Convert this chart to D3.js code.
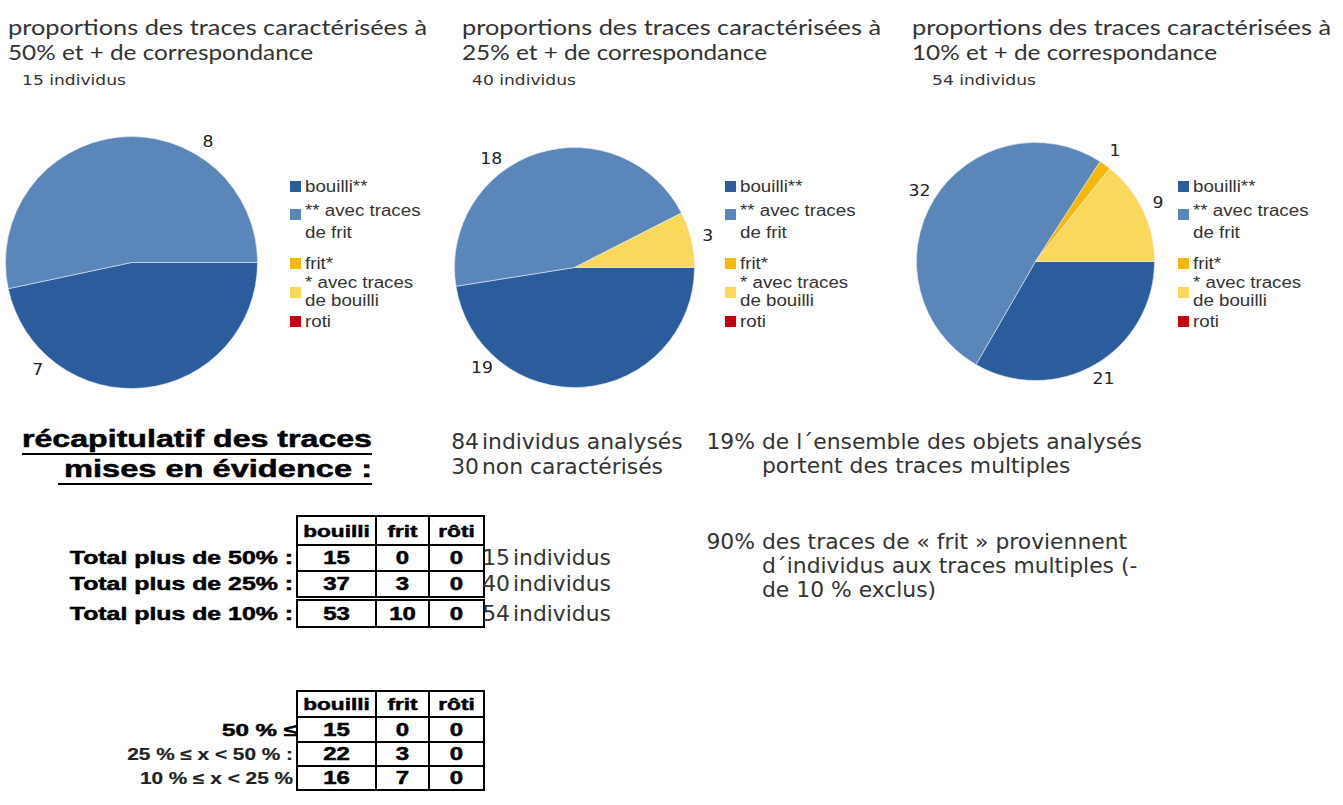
<!DOCTYPE html>
<html>
<head>
<meta charset="utf-8">
<script src="https://cdn.jsdelivr.net/npm/d3@7"></script>
<style>
  html, body { margin: 0; padding: 0; background: #fff; }
  svg { display: block; }
</style>
</head>
<body>
<script>
// ---- data ----
var categories = ["bouilli**", "** avec traces de frit", "frit*", "* avec traces de bouilli", "roti"];
var legendLines = [["bouilli**"], ["** avec traces", "de frit"], ["frit*"], ["* avec traces", "de bouilli"], ["roti"]];
var pie50 = [7, 8, 0, 0, 0];
var pie25 = [19, 18, 0, 3, 0];
var pie10 = [21, 32, 1, 9, 0];
var pieTitles = [
    ["proportions des traces caractérisées à", "50% et + de correspondance"],
    ["proportions des traces caractérisées à", "25% et + de correspondance"],
    ["proportions des traces caractérisées à", "10% et + de correspondance"]
];
var pieCounts = ["15 individus", "40 individus", "54 individus"];

var tableCols = ["bouilli", "frit", "rôti"];
var totalRows = ["Total plus de 50% :", "Total plus de 25% :", "Total plus de 10% :"];
var totalValues = [[15, 0, 0], [37, 3, 0], [53, 10, 0]];
var totalIndividus = [15, 40, 54];
var bandRows = ["50 % ≤", "25 % ≤ x < 50 % :", "10 % ≤ x < 25 %"];
var bandValues = [[15, 0, 0], [22, 3, 0], [16, 7, 0]];

var heading = ["récapitulatif des traces", "mises en évidence :"];
var summaryLeft = [["84", "individus analysés"], ["30", "non caractérisés"]];
var notes = [
    ["19%", ["de l´ensemble des objets analysés", "portent des traces multiples"]],
    ["90%", ["des traces de « frit » proviennent", "d´individus aux traces multiples (-", "de 10 % exclus)"]]
];

// ---- layout / style ----
var sliceColors = ["#2b5c9b", "#5a86b9", "#f6b800", "#fad85c", "#c4000e"];
var pieLayout = [
    {cx: 131.5, cy: 262.5, r: 126, tx: 8, sx: 22, lx: 290, labelAt: [0.78, 0.70, 0.5, 0.5, 0.5]},
    {cx: 574.5, cy: 267.5, r: 120, tx: 462, sx: 472, lx: 725, labelAt: [0.775, 0.38, 0.5, 0.5, 0.5]},
    {cx: 1035.5, cy: 261.5, r: 119, tx: 912, sx: 932, lx: 1178, labelAt: [0.5, 0.5, 0.5, 0.5, 0.5]}
];
var legendBase = 192;
var legendSq = [-11, 17, 66, 95, 124];
var legendTxt = [[0], [24, 46], [77], [96, 114], [135]];

var W = 1343, H = 805;
var svg = d3.select("body").append("svg").attr("width", W).attr("height", H);
svg.append("rect").attr("width", W).attr("height", H).attr("fill", "#fff");

var color = d3.scaleOrdinal().domain(categories).range(sliceColors);

// put a text, stretched horizontally so that it spans the same width as in the picture
function put(g, str, x, y, o) {
    var t = g.append("text")
        .attr("y", y)
        .style("font-family", o.font)
        .style("font-size", o.size + "px")
        .style("font-weight", o.weight || "normal")
        .attr("fill", o.color || "#222")
        .text(str);
    if (o.stroke) t.attr("stroke", o.color || "#000").attr("stroke-width", o.stroke);
    var nat = t.node().getComputedTextLength();
    var w = o.width || nat * (o.k || 1);
    t.attr("textLength", w).attr("lengthAdjust", "spacingAndGlyphs");
    var x0 = o.anchor === "end" ? x - w : (o.anchor === "middle" ? x - w / 2 : x);
    t.attr("x", x0);
    return {x0: x0, w: w};
}

var titleFont = {font: "Lato, 'Open Sans', sans-serif", size: 22, color: "#333"};
var bodyFont = {font: "'DejaVu Sans', sans-serif", size: 21, k: 1.04, color: "#333"};
var boldFont = {font: "'Liberation Sans', Arial, sans-serif", size: 18, weight: "bold", k: 1.38, stroke: 0.5, color: "#000"};

// ---- the three pies ----
[pie50, pie25, pie10].forEach(function (values, i) {
    var L = pieLayout[i];
    put(svg, pieTitles[i][0], L.tx, 35, Object.assign({}, titleFont, {width: 419}));
    put(svg, pieTitles[i][1], L.tx, 60, Object.assign({}, titleFont, {width: 305}));
    put(svg, pieCounts[i], L.sx, 85, {font: "'DejaVu Sans', sans-serif", size: 14.5, k: 1.18, color: "#333"});

    var pie = d3.pie().sort(null)
        .startAngle(Math.PI / 2)
        .endAngle(Math.PI / 2 + 2 * Math.PI);
    var arcs = pie(values);
    var arc = d3.arc().innerRadius(0).outerRadius(L.r);

    var g = svg.append("g").attr("transform", "translate(" + L.cx + "," + L.cy + ")");
    g.selectAll("path")
        .data(arcs.filter(function (d) { return d.value > 0; }))
        .join("path")
        .attr("d", arc)
        .attr("fill", function (d) { return color(categories[d.index]); })
        .attr("stroke", "#e4eaf2")
        .attr("stroke-width", 0.6);

    arcs.forEach(function (d, j) {
        if (d.value <= 0) return;
        var a = d.startAngle + L.labelAt[j] * (d.endAngle - d.startAngle);
        var rr = L.r + 17;
        put(g, String(d.value), rr * Math.sin(a), -rr * Math.cos(a) + 5,
            {font: "'DejaVu Sans', sans-serif", size: 15, k: 1.15, color: "#222", anchor: "middle"});
    });

    // legend
    var lg = svg.append("g");
    categories.forEach(function (c, j) {
        lg.append("rect")
            .attr("x", L.lx).attr("y", legendBase + legendSq[j])
            .attr("width", 11).attr("height", 11)
            .attr("fill", color(c));
        legendLines[j].forEach(function (line, k) {
            put(lg, line, L.lx + 15, legendBase + legendTxt[j][k],
                {font: "'Liberation Sans', Arial, sans-serif", size: 16, k: 1.17, color: "#333"});
        });
    });
});

// ---- heading ----
var h1 = put(svg, heading[0], 372, 447, Object.assign({}, boldFont, {size: 23, width: 350, anchor: "end"}));
svg.append("line").attr("x1", h1.x0).attr("x2", 372).attr("y1", 454).attr("y2", 454)
    .attr("stroke", "#000").attr("stroke-width", 2);
put(svg, heading[1], 372, 477, Object.assign({}, boldFont, {size: 23, width: 308, anchor: "end"}));
svg.append("line").attr("x1", 58).attr("x2", 372).attr("y1", 484).attr("y2", 484)
    .attr("stroke", "#000").attr("stroke-width", 2);

// ---- summary texts ----
summaryLeft.forEach(function (s, i) {
    put(svg, s[0], 479, 449 + i * 25, Object.assign({}, bodyFont, {anchor: "end"}));
    put(svg, s[1], 482, 449 + i * 25, bodyFont);
});
var noteY = [449, 549];
notes.forEach(function (n, i) {
    put(svg, n[0], 755, noteY[i], Object.assign({}, bodyFont, {anchor: "end"}));
    n[1].forEach(function (line, k) {
        put(svg, line, 762, noteY[i] + k * 24, bodyFont);
    });
});

// ---- tables ----
var colX = d3.scaleOrdinal().domain(tableCols).range([297, 376, 429]);
var colW = d3.scaleOrdinal().domain(tableCols).range([79, 53, 55]);

function drawTable(rowLabels, values, rowTops, rowH, labelStyle, extra) {
    var tg = svg.append("g");
    var rowY = d3.scaleOrdinal().domain(["head"].concat(rowLabels)).range(rowTops);
    var rowHt = d3.scaleOrdinal().domain(["head"].concat(rowLabels)).range(rowH);
    var cells = [];
    ["head"].concat(rowLabels).forEach(function (r, i) {
        tableCols.forEach(function (c, j) {
            cells.push({row: r, col: c, text: i === 0 ? c : String(values[i - 1][j])});
        });
    });
    tg.selectAll("rect").data(cells).join("rect")
        .attr("x", function (d) { return colX(d.col); })
        .attr("y", function (d) { return rowY(d.row); })
        .attr("width", function (d) { return colW(d.col); })
        .attr("height", function (d) { return rowHt(d.row); })
        .attr("fill", "#fff").attr("stroke", "#000").attr("stroke-width", 2);
    cells.forEach(function (d) {
        put(tg, d.text, colX(d.col) + colW(d.col) / 2, rowY(d.row) + rowHt(d.row) / 2 + 6,
            Object.assign({}, boldFont, {size: d.row === "head" ? 17 : 18, anchor: "middle", k: 1.33}));
    });
    rowLabels.forEach(function (r, i) {
        var ls = labelStyle[i];
        put(tg, r, ls.x, rowY(r) + rowHt(r) / 2 + 6, Object.assign({}, boldFont, ls, {anchor: "end"}));
        if (extra) {
            put(tg, String(extra[i]), 510, rowY(r) + rowHt(r) / 2 + 7, Object.assign({}, bodyFont, {anchor: "end"}));
            put(tg, "individus", 513, rowY(r) + rowHt(r) / 2 + 7, bodyFont);
        }
    });
}

drawTable(totalRows, totalValues, [516, 545, 571, 600], [29, 26, 26, 27],
    [{x: 293}, {x: 293}, {x: 293}], totalIndividus);
drawTable(bandRows, bandValues, [691, 717, 742, 766], [26, 25, 24, 24],
    [{x: 297, size: 17, k: 1.42}, {x: 293, size: 16, k: 1.3, stroke: 0.2, color: "#222"}, {x: 293, size: 16, k: 1.3, stroke: 0.2, color: "#222"}]);
</script>
</body>
</html>
